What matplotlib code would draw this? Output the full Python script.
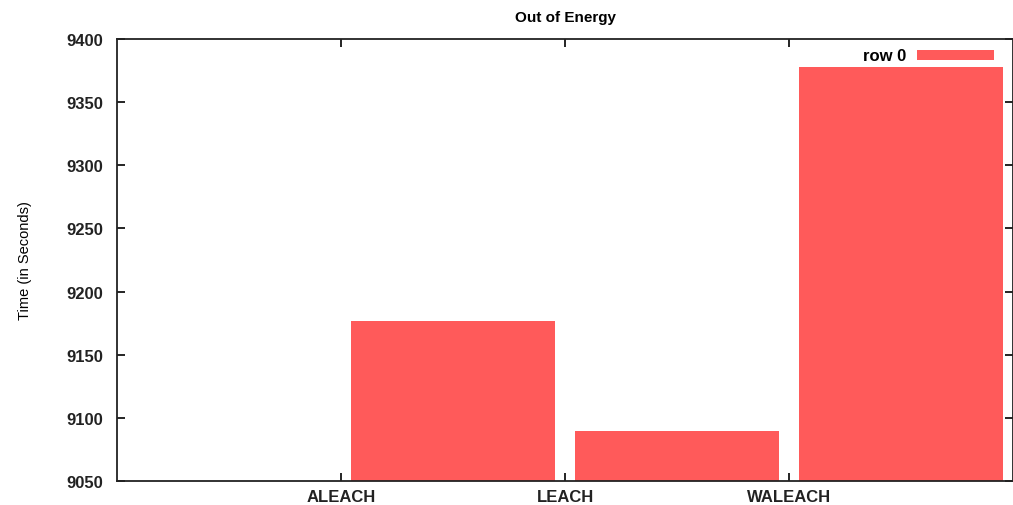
import matplotlib.pyplot as plt
import numpy as np

plt.rcParams['font.family'] = ['Liberation Sans', 'DejaVu Sans']

# run time until nodes are out of energy
protocols = ['ALEACH', 'LEACH', 'WALEACH']
times = [9176.5, 9089.5, 9377.5]
series_name = 'row 0'

fig = plt.figure(figsize=(10.13, 5.06), dpi=100)
ax = fig.add_axes([117 / 1013, 1 - 482 / 506, (1013 - 117) / 1013, (482 - 40) / 506])

x = np.arange(len(protocols))
ax.bar(x + 0.045, times, width=0.91, align='edge', color='#ff5a5a',
       label=series_name, zorder=2)

ax.set_xlim(-1.0, 3.0)
ax.set_ylim(9050, 9400)
ax.set_xticks(x)
ax.set_xticklabels(protocols)
ax.set_yticks(np.arange(9050, 9401, 50))

ax.tick_params(direction='in', top=True, right=True, length=6, width=1.2,
               labelsize=12)
ax.tick_params(axis='x', pad=6)
ax.tick_params(axis='y', pad=10)
for lbl in ax.get_xticklabels() + ax.get_yticklabels():
    lbl.set_fontweight('bold')
    lbl.set_color('#222222')
for s in ax.spines.values():
    s.set_linewidth(1.3)
    s.set_color('#222222')

ax.set_title('Out of Energy', fontsize=11, fontweight='bold', pad=13)
ax.set_ylabel('Time (in Seconds)', fontsize=10.5, labelpad=25)

ax.legend(loc='upper right', frameon=False, markerfirst=False,
          handlelength=4.6, handleheight=0.55, handletextpad=0.7,
          borderaxespad=0.3, prop={'weight': 'bold', 'size': 12},
          bbox_to_anchor=(0.992, 1.005))

fig.savefig('out.png', dpi=100)
